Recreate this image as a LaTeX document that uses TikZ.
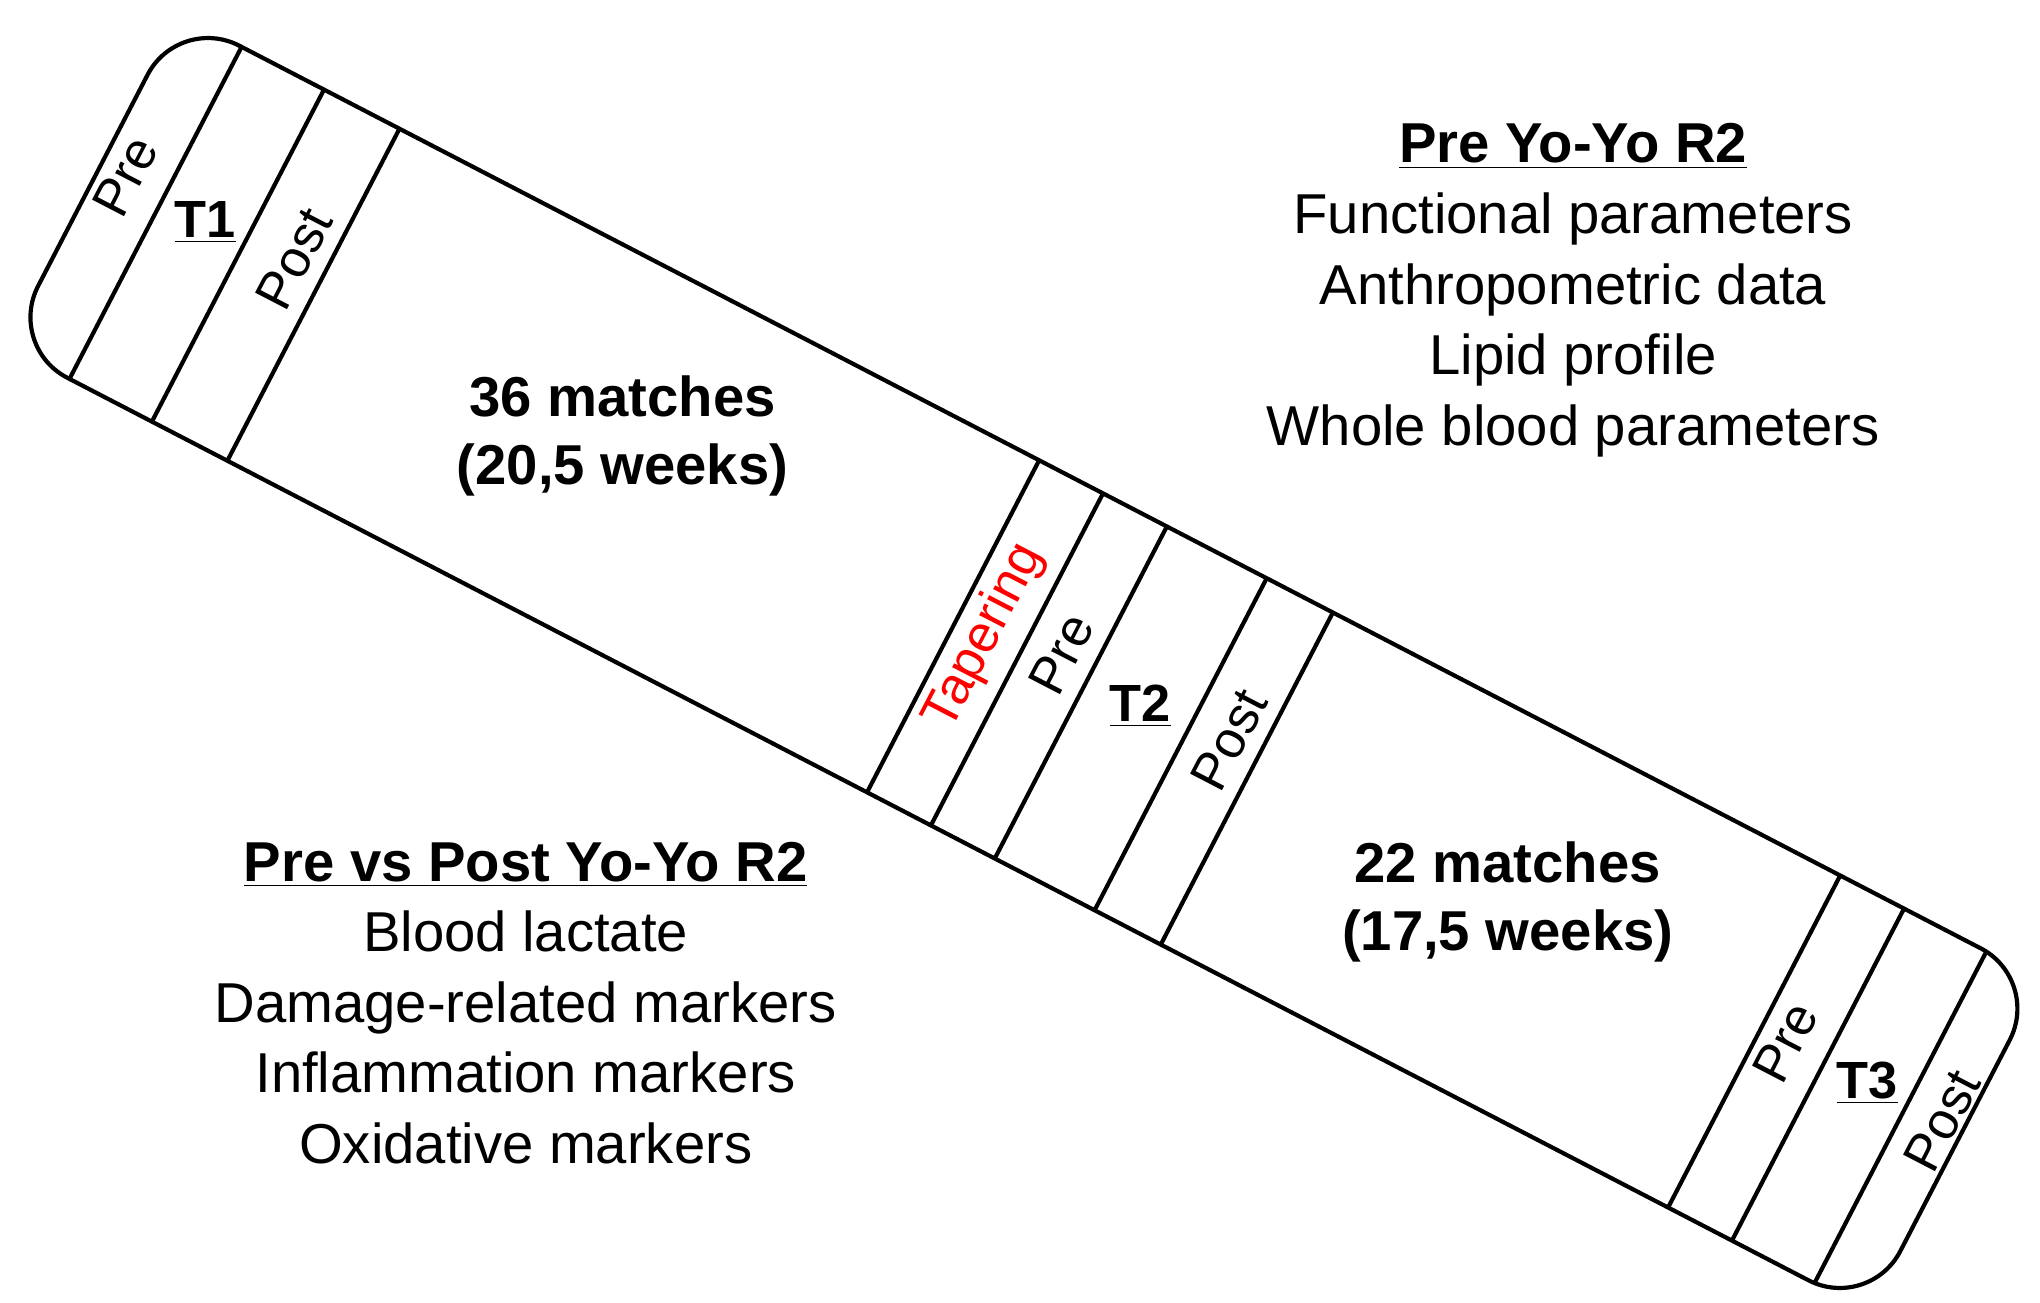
\documentclass[tikz,border=0pt]{standalone}
\usepackage{fontspec}
\setmainfont{Liberation Sans}
\begin{document}
\begin{tikzpicture}[x=0.5pt,y=-0.5pt,
  band/.style={line width=1.6pt},
  rot/.style={rotate=62.6,font=\fontsize{20}{24}\selectfont,inner sep=1pt},
  tl/.style={font=\bfseries\fontsize{20}{24}\selectfont},
  info/.style={align=center,font=\fontsize{21.5}{27}\selectfont},
  big/.style={align=center,font=\bfseries\fontsize{21.5}{26}\selectfont}]
\useasboundingbox (0,0) rectangle (1560,996);
\begin{scope}[shift={(783,507)},rotate=-27.4]
  \draw[band,rounded corners=26pt] (-802,-143) rectangle (802,143);
  \foreach \u in {-748,-677,-612,-61,-6,49,135,192,629,684,755}
    \draw[band] (\u,-143) -- (\u,143);
\end{scope}
\node[rot] (pre1) at (96,135) {Pre};
\node[tl] (t1) at (157,170) {\underline{T1}};
\node[rot] (post1) at (225,198) {Post};
\node[rot,text=red] (tap) at (753,487) {Tapering};
\node[rot] (pre2) at (812,500) {Pre};
\node[tl] (t2) at (872,540) {\underline{T2}};
\node[rot] (post2) at (940,566) {Post};
\node[rot] (pre3) at (1365,797) {Pre};
\node[tl] (t3) at (1428,828) {\underline{T3}};
\node[rot] (post3) at (1485,857) {Post};
\node[big] (m1) at (476,333) {36 matches\\(20,5 weeks)};
\node[big] (m2) at (1153,690) {22 matches\\(17,5 weeks)};
\node[info] (ur) at (1203,222) {\textbf{\underline{Pre Yo-Yo R2}}\\Functional parameters\\Anthropometric data\\Lipid profile\\Whole blood parameters};
\node[info] (ll) at (402,767) {\textbf{\underline{Pre vs Post Yo-Yo R2}}\\Blood lactate\\Damage-related markers\\Inflammation markers\\Oxidative markers};
\end{tikzpicture}
\end{document}
